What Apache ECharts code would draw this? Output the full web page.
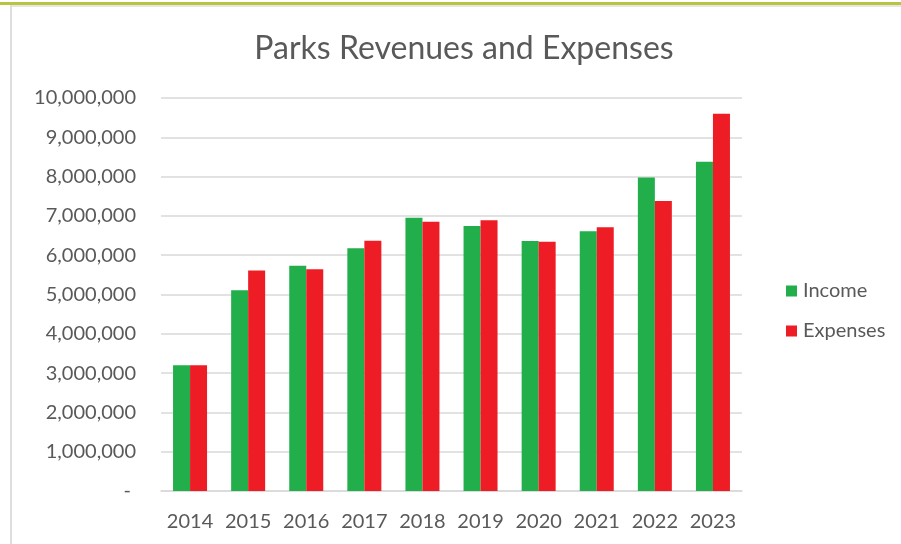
<!DOCTYPE html>
<html>
<head>
<meta charset="utf-8">
<title>Parks Revenues and Expenses</title>
<script src="https://cdn.jsdelivr.net/npm/echarts@6/dist/echarts.min.js"></script>
<style>
  html, body { margin: 0; padding: 0; background: #fff; }
  #chart { width: 901px; height: 544px; }
</style>
</head>
<body>
<div id="chart"></div>
<script>
var years = ['2014', '2015', '2016', '2017', '2018', '2019', '2020', '2021', '2022', '2023'];
var income = [3200000, 5110000, 5730000, 6180000, 6950000, 6740000, 6360000, 6610000, 7980000, 8380000];
var expenses = [3200000, 5610000, 5640000, 6370000, 6850000, 6890000, 6340000, 6710000, 7380000, 9600000];

var textColor = '#595959';
var fontName = 'Lato, "Open Sans", sans-serif';

var myChart = echarts.init(document.getElementById('chart'), null, { renderer: 'canvas' });

var option = {
    animation: false,
    backgroundColor: '#fff',
    textStyle: { fontFamily: fontName },
    title: {
        text: 'Parks Revenues and Expenses',
        left: 459,
        textAlign: 'center',
        top: 28,
        textStyle: { fontSize: 32, fontWeight: 'normal', color: textColor, fontFamily: fontName }
    },
    legend: {
        orient: 'vertical',
        left: 781,
        top: 276,
        itemWidth: 11,
        itemHeight: 11,
        itemGap: 20,
        icon: 'rect',
        textStyle: { fontSize: 20, color: textColor, padding: [0, 0, 0, 1] },
        data: ['Income', 'Expenses']
    },
    grid: {
        left: 161,
        right: 159,
        top: 98,
        bottom: 53,
        containLabel: false
    },
    xAxis: {
        type: 'category',
        data: years,
        axisTick: { show: false },
        axisLine: { lineStyle: { color: '#d9d9d9', width: 1.5 } },
        axisLabel: { color: textColor, fontSize: 20, margin: 21, interval: 0 }
    },
    yAxis: {
        type: 'value',
        min: 0,
        max: 10000000,
        interval: 1000000,
        axisLine: { show: false },
        axisTick: { show: false },
        splitLine: { lineStyle: { color: '#d9d9d9', width: 1.5 } },
        axisLabel: {
            color: textColor,
            fontSize: 20,
            margin: 25,
            formatter: function (v) {
                return v === 0 ? '- ' : v.toLocaleString('en-US');
            }
        }
    },
    series: [
        {
            name: 'Income',
            type: 'bar',
            data: income,
            barWidth: 17,
            barGap: '0%',
            itemStyle: { color: '#21ae4b' }
        },
        {
            name: 'Expenses',
            type: 'bar',
            data: expenses,
            barWidth: 17,
            barGap: '0%',
            itemStyle: { color: '#ee1c24' }
        }
    ],
    graphic: [
        // frame lines from the original screenshot
        { type: 'rect', shape: { x: 0, y: 2, width: 901, height: 3 }, style: { fill: '#b9c440' }, silent: true },
        { type: 'rect', shape: { x: 11, y: 5, width: 890, height: 2 }, style: { fill: '#e6e6e6' }, silent: true },
        { type: 'rect', shape: { x: 10, y: 5, width: 2, height: 539 }, style: { fill: '#dedede' }, silent: true }
    ]
};

myChart.setOption(option);
window.addEventListener('resize', myChart.resize);
</script>
</body>
</html>
